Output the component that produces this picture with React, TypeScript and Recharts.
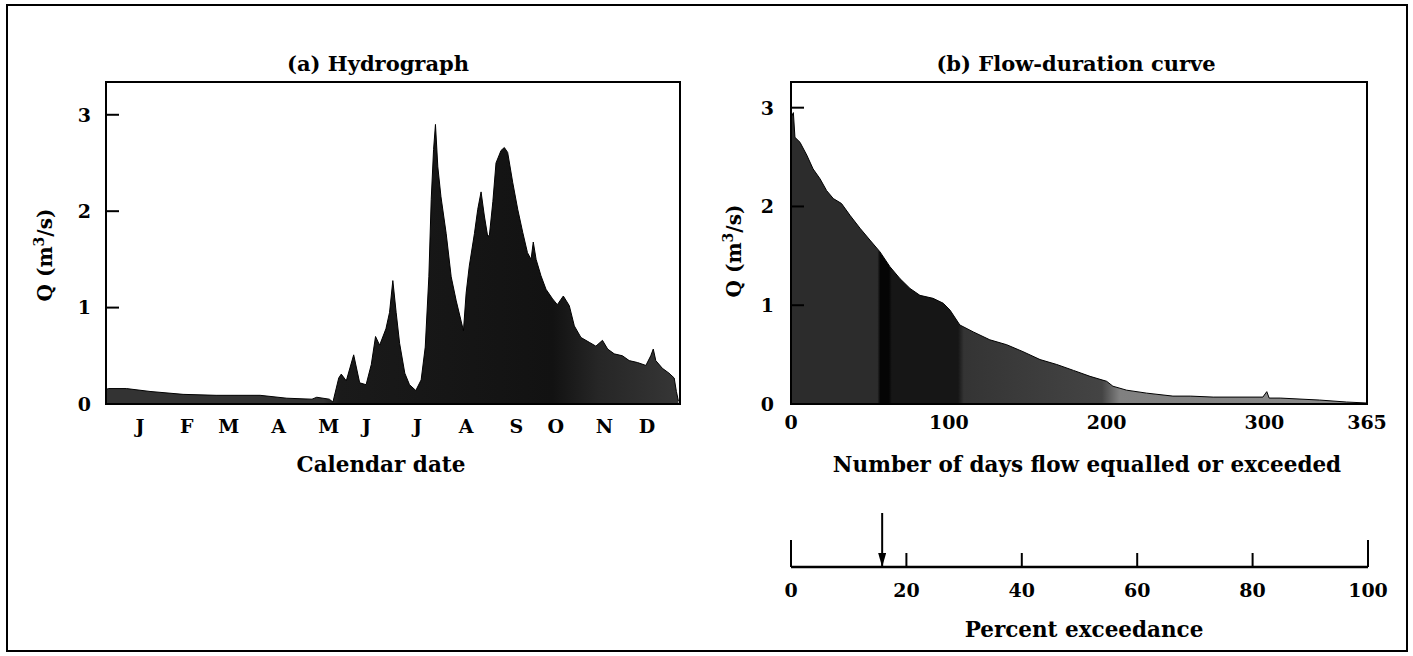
import React from 'react';
import { AreaChart, Area, XAxis, YAxis, ReferenceArea, ComposedChart, Line } from 'recharts';

const FONT = '"DejaVu Serif", "Liberation Serif", serif';

// (a) Hydrograph: day of year and discharge Q (m3/s)
const hydroDay = [0, 1.5, 13, 28, 49, 70, 98, 115, 131, 134, 142, 144.3, 148, 149.6, 152.8, 157.5, 161.3, 165.4, 168.7, 171.4, 174, 178, 180.3, 182.4, 184.5, 186.7, 190, 193, 197, 200.4, 203, 205.3, 206.8, 208.3, 209.5, 211, 213, 216.3, 219.5, 222.7, 225.8, 227.3, 229, 231, 234.3, 236.4, 238.5, 240.6, 242.7, 243.8, 246, 248, 251.2, 253.3, 255.4, 258.6, 261.8, 265, 268, 270.3, 271.7, 273.5, 276.6, 279.8, 284, 287, 290.8, 294.6, 297.8, 302, 307.3, 311.5, 315.7, 319, 323.2, 328.4, 332.7, 338, 343.3, 346.4, 348, 349.6, 353.8, 358, 361.3, 362.7, 364];
const hydroQ = [0.15, 0.16, 0.16, 0.13, 0.10, 0.09, 0.09, 0.06, 0.05, 0.07, 0.05, 0.02, 0.27, 0.31, 0.24, 0.51, 0.22, 0.20, 0.41, 0.70, 0.61, 0.78, 0.95, 1.28, 0.95, 0.63, 0.32, 0.20, 0.14, 0.25, 0.59, 1.32, 2.12, 2.64, 2.90, 2.46, 2.15, 1.77, 1.32, 1.07, 0.86, 0.76, 1.15, 1.43, 1.77, 2.02, 2.20, 1.95, 1.74, 1.75, 2.10, 2.50, 2.63, 2.66, 2.61, 2.30, 2.02, 1.78, 1.57, 1.50, 1.68, 1.50, 1.33, 1.19, 1.09, 1.03, 1.12, 1.02, 0.81, 0.69, 0.64, 0.60, 0.66, 0.57, 0.52, 0.50, 0.45, 0.43, 0.40, 0.50, 0.57, 0.45, 0.37, 0.32, 0.27, 0.13, 0.03];
const monthLabels = ['J', 'F', 'M', 'A', 'M', 'J', 'J', 'A', 'S', 'O', 'N', 'D'];
const monthTickDay = [21.6, 51.4, 78, 109.8, 141.6, 165.7, 198, 229, 261, 286, 317, 344];
const qTicks = [0, 1, 2, 3];

// (b) Flow-duration curve: number of days flow equalled or exceeded, Q
const durationDay = [0, 1.5, 2.5, 5.7, 10, 14, 18.4, 22.6, 26.8, 32, 37.4, 43.7, 50, 56.4, 62.7, 69, 75.4, 81.7, 90, 96.5, 100.8, 107, 115.5, 126, 136.7, 147, 157.8, 168.4, 179, 189.5, 200, 204, 212.7, 225.4, 242, 253, 267.5, 299, 301.5, 303, 310, 335, 352, 365];
const durationQ = [2.9, 2.95, 2.7, 2.65, 2.52, 2.38, 2.28, 2.16, 2.08, 2.03, 1.91, 1.78, 1.66, 1.54, 1.39, 1.27, 1.17, 1.10, 1.07, 1.02, 0.95, 0.80, 0.73, 0.65, 0.60, 0.53, 0.45, 0.40, 0.34, 0.28, 0.23, 0.18, 0.14, 0.11, 0.08, 0.08, 0.07, 0.07, 0.125, 0.06, 0.06, 0.04, 0.02, 0.01];
const dayTicks = [0, 100, 200, 300, 365];

// Percent exceedance scale and the arrow marking the exceedance of interest
const percentTicks = [0, 20, 40, 60, 80, 100];
const arrowPercent = 15.8;
const arrowSpan = [1, 0];

const hydroData = hydroDay.map((d, i) => ({ day: d, q: hydroQ[i] }));
const durationData = durationDay.map((d, i) => ({ day: d, q: durationQ[i] }));
const arrowData = arrowSpan.map((y) => ({ pct: arrowPercent, y }));

const HYDRO_MAX = 3.34;
const DUR_MAX = 3.26;

const boldTick = { fill: '#000', fontSize: 19, fontWeight: 'bold', fontFamily: FONT };
const axisLineStyle = { stroke: '#000', strokeWidth: 2 };

const qLabel = (cx: number, cy: number) => () => (
  <text
    x={cx}
    y={cy}
    transform={`rotate(-90 ${cx} ${cy})`}
    textAnchor="middle"
    dy="0.36em"
    fontFamily={FONT}
    fontSize={20}
    fontWeight="bold"
    fill="#000"
  >
    Q (m<tspan dy="-8" fontSize={14}>3</tspan>
    <tspan dy="8">/s)</tspan>
  </text>
);

const axisTitle = (text: string, cx: number, baseline: number) => () => (
  <text x={cx} y={baseline} textAnchor="middle" fontFamily={FONT} fontSize={21.5} fontWeight="bold" fill="#000">
    {text}
  </text>
);

const makeInnerYTick = (gap: number) => (props: any) => {
  const { x, y, payload } = props;
  return (
    <g>
      <line x1={x} x2={x + 13} y1={y} y2={y} stroke="#000" strokeWidth={2} />
      <text x={x - gap} y={y} dy="0.36em" textAnchor="end" {...boldTick}>
        {payload.value}
      </text>
    </g>
  );
};

const PctTick = (props: any) => {
  const { x, y, payload } = props;
  const v = payload.value;
  const len = v === 0 || v === 100 ? 27 : 14;
  return (
    <g>
      <line x1={x} x2={x} y1={y} y2={y - len} stroke="#000" strokeWidth={2} />
      <text x={x} y={y + 30} textAnchor="middle" {...boldTick}>
        {v}
      </text>
    </g>
  );
};

const titleStyle = (cx: number, cy: number): React.CSSProperties => ({
  position: 'absolute',
  left: cx,
  top: cy,
  transform: 'translate(-50%, -50%)',
  fontFamily: FONT,
  fontSize: 21,
  fontWeight: 'bold',
  whiteSpace: 'nowrap',
  color: '#000',
  lineHeight: 1,
});

export default function App() {
  return (
    <div style={{ position: 'fixed', left: 0, top: 0, width: 1413, height: 656, background: '#fff', overflow: 'hidden' }}>
      <div style={{ position: 'absolute', left: 6, top: 4, width: 1402, height: 648, border: '2px solid #000', boxSizing: 'border-box' }} />

      <div style={titleStyle(378, 63)}>(a) Hydrograph</div>
      <div style={titleStyle(1076, 63)}>(b) Flow-duration curve</div>

      <div style={{ position: 'absolute', left: 0, top: 0 }}>
        <AreaChart width={700} height={480} data={hydroData} margin={{ top: 82, right: 20, bottom: 0, left: 46 }}>
          <defs>
            <linearGradient id="hydroFill" x1="0" y1="0" x2="1" y2="0">
              <stop offset="0" stopColor="#333333" />
              <stop offset="0.38" stopColor="#333333" />
              <stop offset="0.41" stopColor="#1a1a1a" />
              <stop offset="0.78" stopColor="#121212" />
              <stop offset="0.86" stopColor="#262626" />
              <stop offset="1" stopColor="#363636" />
            </linearGradient>
          </defs>
          <XAxis
            dataKey="day"
            type="number"
            domain={[0, 365]}
            ticks={monthTickDay}
            interval={0}
            tickFormatter={(v: number) => monthLabels[monthTickDay.indexOf(v)]}
            tickLine={false}
            tickSize={0}
            tickMargin={16}
            height={76}
            axisLine={axisLineStyle}
            tick={boldTick}
            label={{ content: axisTitle('Calendar date', 381, 472) }}
          />
          <YAxis
            type="number"
            domain={[0, HYDRO_MAX]}
            ticks={qTicks}
            interval={0}
            width={60}
            tickSize={0}
            tickMargin={0}
            tickLine={false}
            axisLine={axisLineStyle}
            tick={makeInnerYTick(15)}
            label={{ content: qLabel(45, 255) }}
          />
          <Area dataKey="q" type="linear" stroke="#000" strokeWidth={1} fill="url(#hydroFill)" fillOpacity={1} isAnimationActive={false} />
          <ReferenceArea x1={0} x2={365} y1={0} y2={HYDRO_MAX} fill="none" fillOpacity={0} stroke="#000" strokeWidth={2} />
        </AreaChart>
      </div>

      <div style={{ position: 'absolute', left: 700, top: 0 }}>
        <AreaChart width={713} height={480} data={durationData} margin={{ top: 82, right: 46, bottom: 0, left: 36 }}>
          <defs>
            <linearGradient id="durFill" x1="0" y1="0" x2="1" y2="0">
              <stop offset="0" stopColor="#2c2c2c" />
              <stop offset="0.15" stopColor="#2c2c2c" />
              <stop offset="0.155" stopColor="#050505" />
              <stop offset="0.17" stopColor="#050505" />
              <stop offset="0.175" stopColor="#161616" />
              <stop offset="0.29" stopColor="#161616" />
              <stop offset="0.30" stopColor="#343434" />
              <stop offset="0.54" stopColor="#444444" />
              <stop offset="0.57" stopColor="#808080" />
              <stop offset="1" stopColor="#8c8c8c" />
            </linearGradient>
          </defs>
          <XAxis
            dataKey="day"
            type="number"
            domain={[0, 365]}
            ticks={dayTicks}
            interval={0}
            tickLine={false}
            tickSize={0}
            tickMargin={12}
            height={76}
            axisLine={axisLineStyle}
            tick={boldTick}
            label={{ content: axisTitle('Number of days flow equalled or exceeded', 387, 472) }}
          />
          <YAxis
            type="number"
            domain={[0, DUR_MAX]}
            ticks={qTicks}
            interval={0}
            width={55}
            tickSize={0}
            tickMargin={0}
            tickLine={false}
            axisLine={axisLineStyle}
            tick={makeInnerYTick(17)}
            label={{ content: qLabel(34, 251) }}
          />
          <Area dataKey="q" type="linear" stroke="#000" strokeWidth={1} fill="url(#durFill)" fillOpacity={1} isAnimationActive={false} />
          <ReferenceArea x1={0} x2={365} y1={0} y2={DUR_MAX} fill="none" fillOpacity={0} stroke="#000" strokeWidth={2} />
        </AreaChart>
      </div>

      <div style={{ position: 'absolute', left: 700, top: 480 }}>
        <ComposedChart width={713} height={176} data={arrowData} margin={{ top: 33, right: 45, bottom: 0, left: 91 }}>
          <defs>
            <marker id="arrowHead" markerUnits="userSpaceOnUse" markerWidth={14} markerHeight={8} refX={14} refY={4} orient="auto">
              <path d="M0,0 L14,4 L0,8 z" fill="#000" />
            </marker>
          </defs>
          <XAxis
            dataKey="pct"
            type="number"
            domain={[0, 100]}
            ticks={percentTicks}
            interval={0}
            tickLine={false}
            tickSize={0}
            tickMargin={0}
            height={89}
            axisLine={{ stroke: '#000', strokeWidth: 2.5 }}
            tick={<PctTick />}
            label={{ content: axisTitle('Percent exceedance', 384, 157) }}
          />
          <YAxis dataKey="y" type="number" domain={[0, 1]} hide />
          <Line dataKey="y" type="linear" stroke="#000" strokeWidth={2} dot={false} markerEnd="url(#arrowHead)" isAnimationActive={false} />
        </ComposedChart>
      </div>
    </div>
  );
}
